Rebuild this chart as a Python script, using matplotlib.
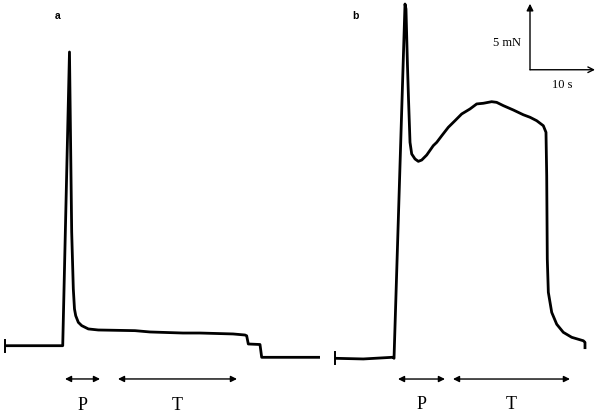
import matplotlib
matplotlib.use("Agg")
import matplotlib.pyplot as plt

# ---- data (time in s, force in mN, relative to each trace's start/baseline) ----
t_a = [0, 8.88, 9.92, 10.26, 10.51, 10.69, 10.88, 11.28, 11.8, 12.82, 14.35, 20.0,
       22.31, 27.38, 30.0, 35.08, 36.92, 37.18, 37.43, 39.23, 39.49, 48.46]
f_a = [0, 0, 22.25, 8.61, 4.30, 2.78, 2.27, 1.77, 1.52, 1.27, 1.19, 1.14,
       1.04, 0.96, 0.96, 0.89, 0.81, 0.75, 0.13, 0.09, -0.88, -0.88]

t_b = [0, 4.36, 8.97, 9.08, 10.77, 10.92, 11.15, 11.31, 11.54, 11.8, 12.31, 12.82,
       13.34, 14.11, 15.12, 15.65, 16.42, 17.43, 18.46, 19.49, 20.77, 21.8, 22.82,
       24.1, 24.87, 25.9, 27.44, 28.97, 30.0, 31.03, 32.05, 32.46, 32.57, 32.66,
       32.82, 33.34, 34.11, 35.12, 36.42, 38.2, 38.46, 38.46]
f_b = [0, -0.05, 0.08, 0, 26.84, 26.46, 22.17, 19.64, 16.36, 15.48, 15.1, 14.92,
       15.02, 15.4, 16.11, 16.36, 16.86, 17.5, 18.0, 18.51, 18.89, 19.27, 19.32,
       19.44, 19.39, 19.14, 18.81, 18.45, 18.26, 18.0, 17.62, 17.12, 13.83, 7.52,
       5.0, 3.48, 2.58, 1.97, 1.59, 1.33, 1.21, 0.7]

phase_labels = ["P", "T"]
phases_a = [(9.23, 14.62), (17.38, 35.69)]
phases_b = [(9.69, 16.92), (18.15, 36.15)]

scale_force = 5    # mN
scale_time = 10    # s

# ---- layout ----
W, H = 601, 414
PX_PER_S = 6.5
PX_PER_MN = 13.2

fig = plt.figure(figsize=(W / 100, H / 100), dpi=100)
fig.patch.set_facecolor("white")

def panel_axes(x0, y0):
    ax = fig.add_axes([0, 0, 1, 1], facecolor="none")
    ax.set_xlim(-x0 / PX_PER_S, (W - x0) / PX_PER_S)
    ax.set_ylim((y0 - H) / PX_PER_MN, y0 / PX_PER_MN)
    ax.axis("off")
    return ax

ax_a = panel_axes(5, 346.7)
ax_b = panel_axes(335, 359.3)

serif = "Liberation Serif"
lw = 2.0

for ax, t, f, phases, ylab, yarr, tick in [
        (ax_a, t_a, f_a, phases_a, -4.45, -2.52, 0.45),
        (ax_b, t_b, f_b, phases_b, -3.4, -1.57, 0.45)]:
    ax.plot(t, f, color="black", lw=lw, solid_joinstyle="round", solid_capstyle="butt")
    ax.plot([t[0], t[0]], [-tick, tick], color="black", lw=1.4)
    for (s, e), lab in zip(phases, phase_labels):
        ax.annotate("", xy=(e, yarr), xytext=(s, yarr),
                    arrowprops=dict(arrowstyle="<|-|>", color="black", lw=1.0,
                                    mutation_scale=9, shrinkA=0, shrinkB=0))
        ax.text((s + e) / 2, ylab, lab, family=serif, fontsize=13,
                ha="center", va="center")

# scale bar on panel b
sx, sy = 30.0, 21.86
ax_b.annotate("", xy=(sx, sy + scale_force), xytext=(sx, sy),
              arrowprops=dict(arrowstyle="-|>", color="black", lw=1.0,
                              mutation_scale=10, shrinkA=0, shrinkB=0))
ax_b.annotate("", xy=(sx + scale_time, sy), xytext=(sx, sy),
              arrowprops=dict(arrowstyle="->", color="black", lw=1.0,
                              mutation_scale=10, shrinkA=0, shrinkB=0))
ax_b.text(sx - 1.4, sy + 2.1, f"{scale_force} mN", family=serif, fontsize=9,
          ha="right", va="center")
ax_b.text(sx + 4.9, sy - 1.1, f"{scale_time} s", family=serif, fontsize=9,
          ha="center", va="center")

# panel letters
fig.text(58 / W, 1 - 16 / H, "a", family="Liberation Sans", fontweight="bold",
         fontsize=7.5, ha="center", va="center")
fig.text(355 / W, 1 - 16 / H, "b", family="Liberation Sans", fontweight="bold",
         fontsize=7.5, ha="center", va="center")

fig.savefig("out.png", dpi=100, facecolor="white")
